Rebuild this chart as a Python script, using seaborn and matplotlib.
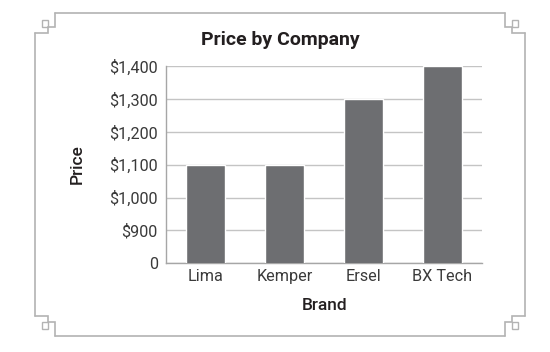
import matplotlib.pyplot as plt
import matplotlib.ticker as mticker
from matplotlib.lines import Line2D
from matplotlib.patches import Rectangle
import seaborn as sns
import pandas as pd

brands = ["Lima", "Kemper", "Ersel", "BX Tech"]
prices = [1100, 1100, 1300, 1400]
y_ticks = [800, 900, 1000, 1100, 1200, 1300, 1400]

W, H = 550, 352

sns.set_theme(style="white")
plt.rcParams["font.family"] = ["Roboto", "DejaVu Sans"]


# pixel coords (from top-left) -> figure fraction
def px(x, y):
    return x / W, 1 - y / H


def poly(fig, pts, color="#b3b3b3", lw=1.2):
    xs = [px(x, y)[0] for x, y in pts]
    ys = [px(x, y)[1] for x, y in pts]
    fig.add_artist(Line2D(xs, ys, transform=fig.transFigure, color=color, lw=lw,
                          solid_joinstyle="miter"))


def square(fig, x, y, s=6.7, color="#b3b3b3", lw=1.0):
    x0, y0 = px(x, y + s)
    fig.add_artist(Rectangle((x0, y0), s / W, s / H, transform=fig.transFigure,
                             fill=False, ec=color, lw=lw))


fig = plt.figure(figsize=(5.5, 3.52), dpi=100)
ax = fig.add_axes([166 / W, 1 - 263.3 / H, (482 - 166) / W, (263.3 - 66) / H])

df = pd.DataFrame({"Brand": brands, "Price": prices})
sns.barplot(data=df, x="Brand", y="Price", color="#6d6e71", saturation=1,
            width=0.5, ax=ax, zorder=3)

ax.set_ylim(800, 1400)
ax.set_yticks(y_ticks)
ax.yaxis.set_major_formatter(mticker.FuncFormatter(
    lambda v, p: "0" if v == 800 else f"${v:,.0f}"))
ax.yaxis.grid(True, color="#c4c4c4", lw=1)
ax.set_axisbelow(True)

for side in ["top", "right"]:
    ax.spines[side].set_visible(False)
ax.spines["left"].set_color("#a6a6a6")
ax.spines["bottom"].set_color("#a6a6a6")
ax.spines["left"].set_linewidth(1)
ax.spines["bottom"].set_linewidth(1)
ax.tick_params(axis="both", length=0, labelsize=11.7, colors="#3a3a3a")
ax.tick_params(axis="y", pad=6)
ax.tick_params(axis="x", pad=4)
ax.set_xlabel("")
ax.set_ylabel("")

fig.text(*px(280, 40), "Price by Company", ha="center", va="center",
         fontsize=14, fontweight="bold", color="#231f20")
fig.text(*px(324.5, 306), "Brand", ha="center", va="center",
         fontsize=12.5, fontweight="medium", color="#231f20")
fig.text(*px(77.5, 164), "Price", ha="center", va="center", rotation=90,
         fontsize=12.5, fontweight="medium", color="#231f20")

# decorative frame with notched corners
poly(fig, [(55, 13.3), (505, 13.3)])
poly(fig, [(55, 335.7), (505, 335.7)])
poly(fig, [(35, 33.3), (35, 316)])
poly(fig, [(525, 33.3), (525, 316)])
poly(fig, [(35, 33.3), (48.3, 33.3), (48.3, 26.7), (55, 26.7), (55, 13.3)])
poly(fig, [(505, 13.3), (505, 26.7), (511.7, 26.7), (511.7, 33.3), (525, 33.3)])
poly(fig, [(35, 316), (48.3, 316), (48.3, 322.3), (55, 322.3), (55, 335.7)])
poly(fig, [(525, 316), (511.7, 316), (511.7, 322.3), (505, 322.3), (505, 335.7)])
square(fig, 41.7, 20)
square(fig, 511.7, 20)
square(fig, 41.7, 322.3)
square(fig, 511.7, 322.3)

fig.savefig("out.png", dpi=100)
